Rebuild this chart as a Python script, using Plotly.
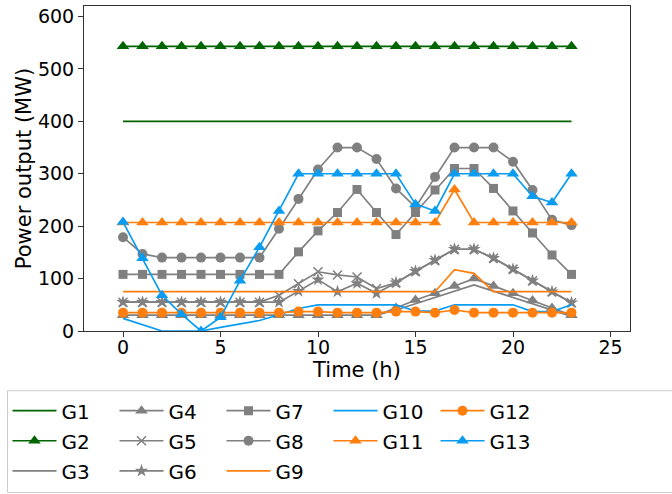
import plotly.graph_objects as go

# Hourly dispatch of 13 generating units (MW)
hours = list(range(24))

G1 = [400] * 24
G2 = [543] * 24
G3 = [30] * 14 + [40, 52, 64, 76, 88, 76, 64, 52, 40, 28]
G4 = [30] * 14 + [44, 59, 72, 86, 100, 86, 72, 58, 44, 30]
G5 = [55] * 8 + [68, 90, 113, 107, 103, 81, 92, 114, 135, 156, 156, 139, 118, 96, 75, 54]
G6 = [55] * 9 + [76, 98, 75, 91, 72, 92, 114, 135, 156, 156, 139, 118, 96, 75, 54]
G7 = [108] * 9 + [151, 191, 226, 270, 226, 184, 226, 269, 310, 310, 272, 229, 187, 145, 108]
G8 = [179, 147] + [140] * 6 + [195, 252, 308, 350, 350, 328, 272, 236, 294, 350, 350, 350, 323, 269, 212, 202]
G9 = [75] * 17 + [117, 110] + [75] * 5
G10 = [24, 12, 0, 0, 0, 7, 13, 20, 31, 43, 50, 50, 50, 50, 50, 38, 38, 50, 50, 50, 50, 37, 37, 50]
G11 = [207] * 17 + [270] + [207] * 6
G12 = [35] * 9 + [37, 37, 35, 35, 35, 37, 37, 35, 40] + [35] * 6
G13 = [208, 139, 68, 32, 0, 26, 96, 160, 229, 300, 300, 300, 300, 300, 300,
       242, 229, 300, 300, 300, 300, 257, 245, 300]

x_ticks = [0, 5, 10, 15, 20, 25]
y_ticks = [0, 100, 200, 300, 400, 500, 600]

GREEN = "#006400"
GRAY = "#808080"
ORANGE = "#ff7f0e"
BLUE = "#0a9cf0"

# name, values, colour, marker symbol (None = plain line), marker size
series = [
    ("G1", G1, GREEN, None, 0),
    ("G2", G2, GREEN, "triangle-up", 11),
    ("G3", G3, GRAY, None, 0),
    ("G4", G4, GRAY, "triangle-up", 11),
    ("G5", G5, GRAY, "x-thin-open", 9),
    ("G6", G6, GRAY, "star", 10),
    ("G7", G7, GRAY, "square", 9),
    ("G8", G8, GRAY, "circle", 10),
    ("G9", G9, ORANGE, None, 0),
    ("G10", G10, BLUE, None, 0),
    ("G11", G11, ORANGE, "triangle-up", 11),
    ("G12", G12, ORANGE, "circle", 10),
    ("G13", G13, BLUE, "triangle-up", 11),
]

# legend filled column by column, 3 rows x 5 columns
legend_order = ["G1", "G4", "G7", "G10", "G12",
                "G2", "G5", "G8", "G11", "G13",
                "G3", "G6", "G9"]

fig = go.Figure()
for name, vals, color, symbol, size in series:
    kw = dict(
        x=hours, y=vals,
        # legend label at 20px inside a slightly taller legend line
        name=f'<span style="font-size:20px">{name}</span>',
        line=dict(color=color, width=1.7),
        legendrank=legend_order.index(name) + 1,
    )
    if symbol is None:
        kw["mode"] = "lines"
    else:
        kw["mode"] = "lines+markers"
        marker = dict(symbol=symbol, size=size, color=color)
        if symbol == "x-thin-open":
            marker["line"] = dict(color=color, width=1.5)
        else:
            marker["line"] = dict(width=0)
        kw["marker"] = marker
    fig.add_trace(go.Scatter(**kw))

axis_common = dict(
    showgrid=False, zeroline=False,
    showline=True, linecolor="#333333", linewidth=1, mirror=True,
    ticks="outside", ticklen=5, tickcolor="#333333",
    tickfont=dict(size=19, color="black"),
)

# plot area in pixels, used to place the legend frame
PL, PR, PT, PB = 84, 630, 6, 331
pw, ph = PR - PL, PB - PT

fig.update_layout(
    width=672, height=494,
    margin=dict(l=PL, r=672 - PR, t=PT, b=494 - PB, autoexpand=False),
    paper_bgcolor="white", plot_bgcolor="white",
    font=dict(family="DejaVu Sans", color="black"),
    xaxis=dict(range=[-2, 26], tickvals=x_ticks, ticklabelstandoff=-6,
               title=dict(text="Time (h)", font=dict(size=21), standoff=0),
               **axis_common),
    yaxis=dict(range=[0, 620], tickvals=y_ticks,
               title=dict(text="Power output (MW)", font=dict(size=21), standoff=0),
               **axis_common),
    legend=dict(
        orientation="h",
        x=(7.5 - PL) / pw, xanchor="left",
        y=(PB - 390.7) / ph, yanchor="top",
        font=dict(size=20.8),
        bgcolor="rgba(0,0,0,0)",
        borderwidth=0,
        itemwidth=44,
        entrywidth=48, entrywidthmode="pixels",
        traceorder="normal",
    ),
    shapes=[dict(
        type="rect", xref="paper", yref="paper",
        x0=(7.5 - PL) / pw, x1=(690 - PL) / pw,
        y0=(PB - 492.5) / ph, y1=(PB - 390.7) / ph,
        line=dict(color="#cccccc", width=1),
        fillcolor="rgba(0,0,0,0)", layer="above",
    )],
)

fig.write_html("out.html")
